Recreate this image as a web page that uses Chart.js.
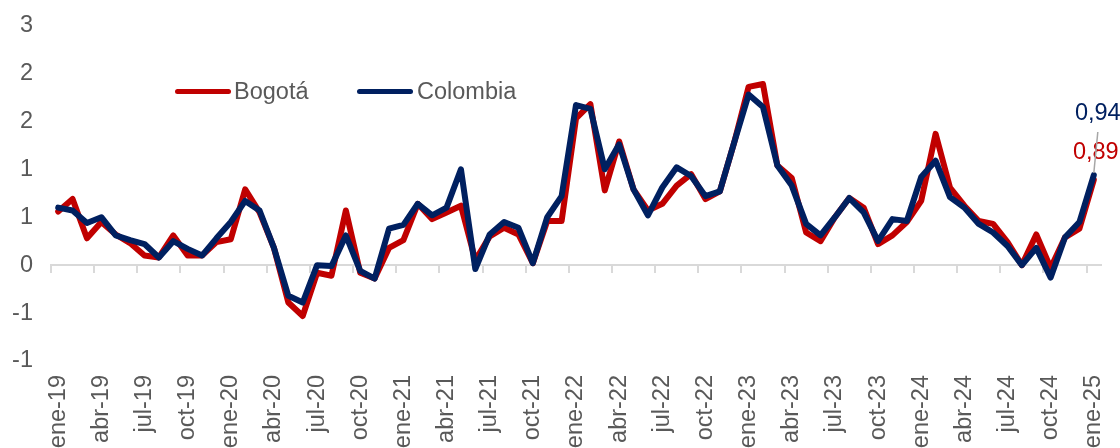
<!DOCTYPE html>
<html>
<head>
<meta charset="utf-8">
<script src="https://cdn.jsdelivr.net/npm/chart.js@4.4.1/dist/chart.umd.min.js"></script>
<style>
  html, body { margin: 0; padding: 0; background: #fff; }
  #wrap { position: relative; width: 1120px; height: 448px; }
  .lg-line { position: absolute; height: 5px; width: 56px; border-radius: 3px; }
  .lg-text { position: absolute; font: 23.5px "Liberation Sans", Arial, sans-serif; line-height: 24px; color: #595959; white-space: nowrap; }
</style>
</head>
<body>
<div id="wrap">
  <canvas id="myChart" width="1120" height="448"></canvas>
  <div class="lg-line" style="left:175px; top:89px; background:#C00000"></div>
  <div class="lg-text" style="left:234px; top:79px">Bogotá</div>
  <div class="lg-line" style="left:357px; top:89px; background:#002060"></div>
  <div class="lg-text" style="left:417px; top:79px">Colombia</div>
</div>
<script>
// month labels, ene-19 .. ene-25
const monthNames = ['ene', 'feb', 'mar', 'abr', 'may', 'jun', 'jul', 'ago', 'sep', 'oct', 'nov', 'dic'];
const years = ['19', '20', '21', '22', '23', '24', '25'];
const months = [];
years.forEach(yy => monthNames.forEach(m => months.push(m + '-' + yy)));
months.length = 73;

// variación mensual (%)
const bogota = [
  0.56, 0.69, 0.28, 0.45, 0.32, 0.23, 0.10, 0.08, 0.31, 0.10, 0.10, 0.24,
  0.27, 0.79, 0.55, 0.18, -0.39, -0.53, -0.08, -0.11, 0.57, -0.08, -0.14, 0.18,
  0.26, 0.64, 0.48, 0.55, 0.62, 0.05, 0.30, 0.39, 0.32, 0.02, 0.46, 0.46,
  1.53, 1.68, 0.78, 1.29, 0.79, 0.57, 0.64, 0.83, 0.95, 0.69, 0.77, 1.28,
  1.86, 1.89, 1.04, 0.91, 0.34, 0.25, 0.50, 0.70, 0.60, 0.22, 0.31, 0.45,
  0.67, 1.37, 0.81, 0.62, 0.46, 0.43, 0.24, 0.00, 0.32, -0.03, 0.29, 0.38,
  0.89
];
const colombia = [
  0.60, 0.57, 0.44, 0.50, 0.31, 0.26, 0.22, 0.08, 0.25, 0.17, 0.10, 0.28,
  0.45, 0.67, 0.57, 0.18, -0.32, -0.39, 0.00, -0.01, 0.31, -0.06, -0.14, 0.38,
  0.42, 0.64, 0.52, 0.60, 1.00, -0.04, 0.32, 0.45, 0.39, 0.02, 0.50, 0.72,
  1.67, 1.63, 1.00, 1.26, 0.79, 0.52, 0.81, 1.02, 0.93, 0.72, 0.77, 1.28,
  1.78, 1.65, 1.04, 0.83, 0.43, 0.31, 0.50, 0.70, 0.55, 0.25, 0.48, 0.46,
  0.92, 1.09, 0.71, 0.60, 0.43, 0.34, 0.20, 0.00, 0.18, -0.13, 0.29, 0.45,
  0.94
];

const red = '#C00000';
const navy = '#002060';
const gray = '#595959';
const FONT = '"Liberation Sans", Arial, sans-serif';

// Excel style rounding of the axis labels (format "0")
function roundLabel(v) {
  const r = Math.round(Math.abs(v) + 1e-9);
  return v < 0 ? '-' + r : String(r);
}

// last value labels with leader line
const endLabels = {
  id: 'endLabels',
  afterDatasetsDraw(chart) {
    const {ctx, scales: {x, y}} = chart;
    const last = months.length - 1;
    const px = x.getPixelForValue(last);
    const pyCol = y.getPixelForValue(colombia[last]);
    const pyBog = y.getPixelForValue(bogota[last]);
    ctx.save();
    ctx.font = '23.5px ' + FONT;
    ctx.textAlign = 'center';
    ctx.textBaseline = 'middle';
    ctx.fillStyle = navy;
    ctx.fillText(colombia[last].toFixed(2).replace('.', ','), px + 4, pyCol - 62);
    ctx.fillStyle = red;
    ctx.fillText(bogota[last].toFixed(2).replace('.', ','), px + 2, pyBog - 27);
    ctx.strokeStyle = '#a6a6a6';
    ctx.lineWidth = 1.5;
    ctx.beginPath();
    ctx.moveTo(px + 4, pyCol - 43);
    ctx.lineTo(px, pyCol - 2);
    ctx.stroke();
    ctx.restore();
  }
};

const ctx = document.getElementById('myChart').getContext('2d');
const chart = new Chart(ctx, {
  type: 'line',
  data: {
    labels: months,
    datasets: [
      { label: 'Bogotá', data: bogota, borderColor: red, backgroundColor: red, borderWidth: 6, order: 1 },
      { label: 'Colombia', data: colombia, borderColor: navy, backgroundColor: navy, borderWidth: 6, order: 0 }
    ]
  },
  options: {
    responsive: false,
    animation: false,
    layout: { padding: { left: 0, right: 19, top: 25.5, bottom: 0 } },
    elements: {
      point: { radius: 0 },
      line: { tension: 0, borderJoinStyle: 'round', borderCapStyle: 'round' }
    },
    plugins: {
      legend: { display: false },
      tooltip: { enabled: false }
    },
    scales: {
      x: {
        offset: true,
        grid: { display: false, drawTicks: false },
        border: { display: false },
        afterFit: s => { s.height = 87; },
        ticks: {
          autoSkip: false,
          maxRotation: 90,
          minRotation: 90,
          padding: 14,
          color: gray,
          font: { family: FONT, size: 23.5, lineHeight: 0.5 },
          callback: function(val, idx) { return idx % 3 === 0 ? this.getLabelForValue(val) : ''; }
        }
      },
      x2: {
        axis: 'x',
        type: 'category',
        position: { y: 0 },
        offset: true,
        grid: {
          offset: true,
          drawOnChartArea: false,
          drawTicks: true,
          tickLength: 7,
          lineWidth: 2,
          color: c => (c.index % 3 === 0 && c.index < months.length) ? '#d9d9d9' : 'rgba(0,0,0,0)'
        },
        border: { display: true, color: '#d9d9d9', width: 2 },
        ticks: { display: false }
      },
      y: {
        min: -1,
        max: 2.5,
        grid: { display: false, drawTicks: false },
        border: { display: false },
        afterFit: s => { s.width = 51; },
        ticks: {
          stepSize: 0.5,
          padding: 18,
          color: gray,
          font: { family: FONT, size: 23.5, lineHeight: 0.5 },
          callback: v => roundLabel(v)
        }
      }
    }
  },
  plugins: [endLabels]
});
</script>
</body>
</html>
